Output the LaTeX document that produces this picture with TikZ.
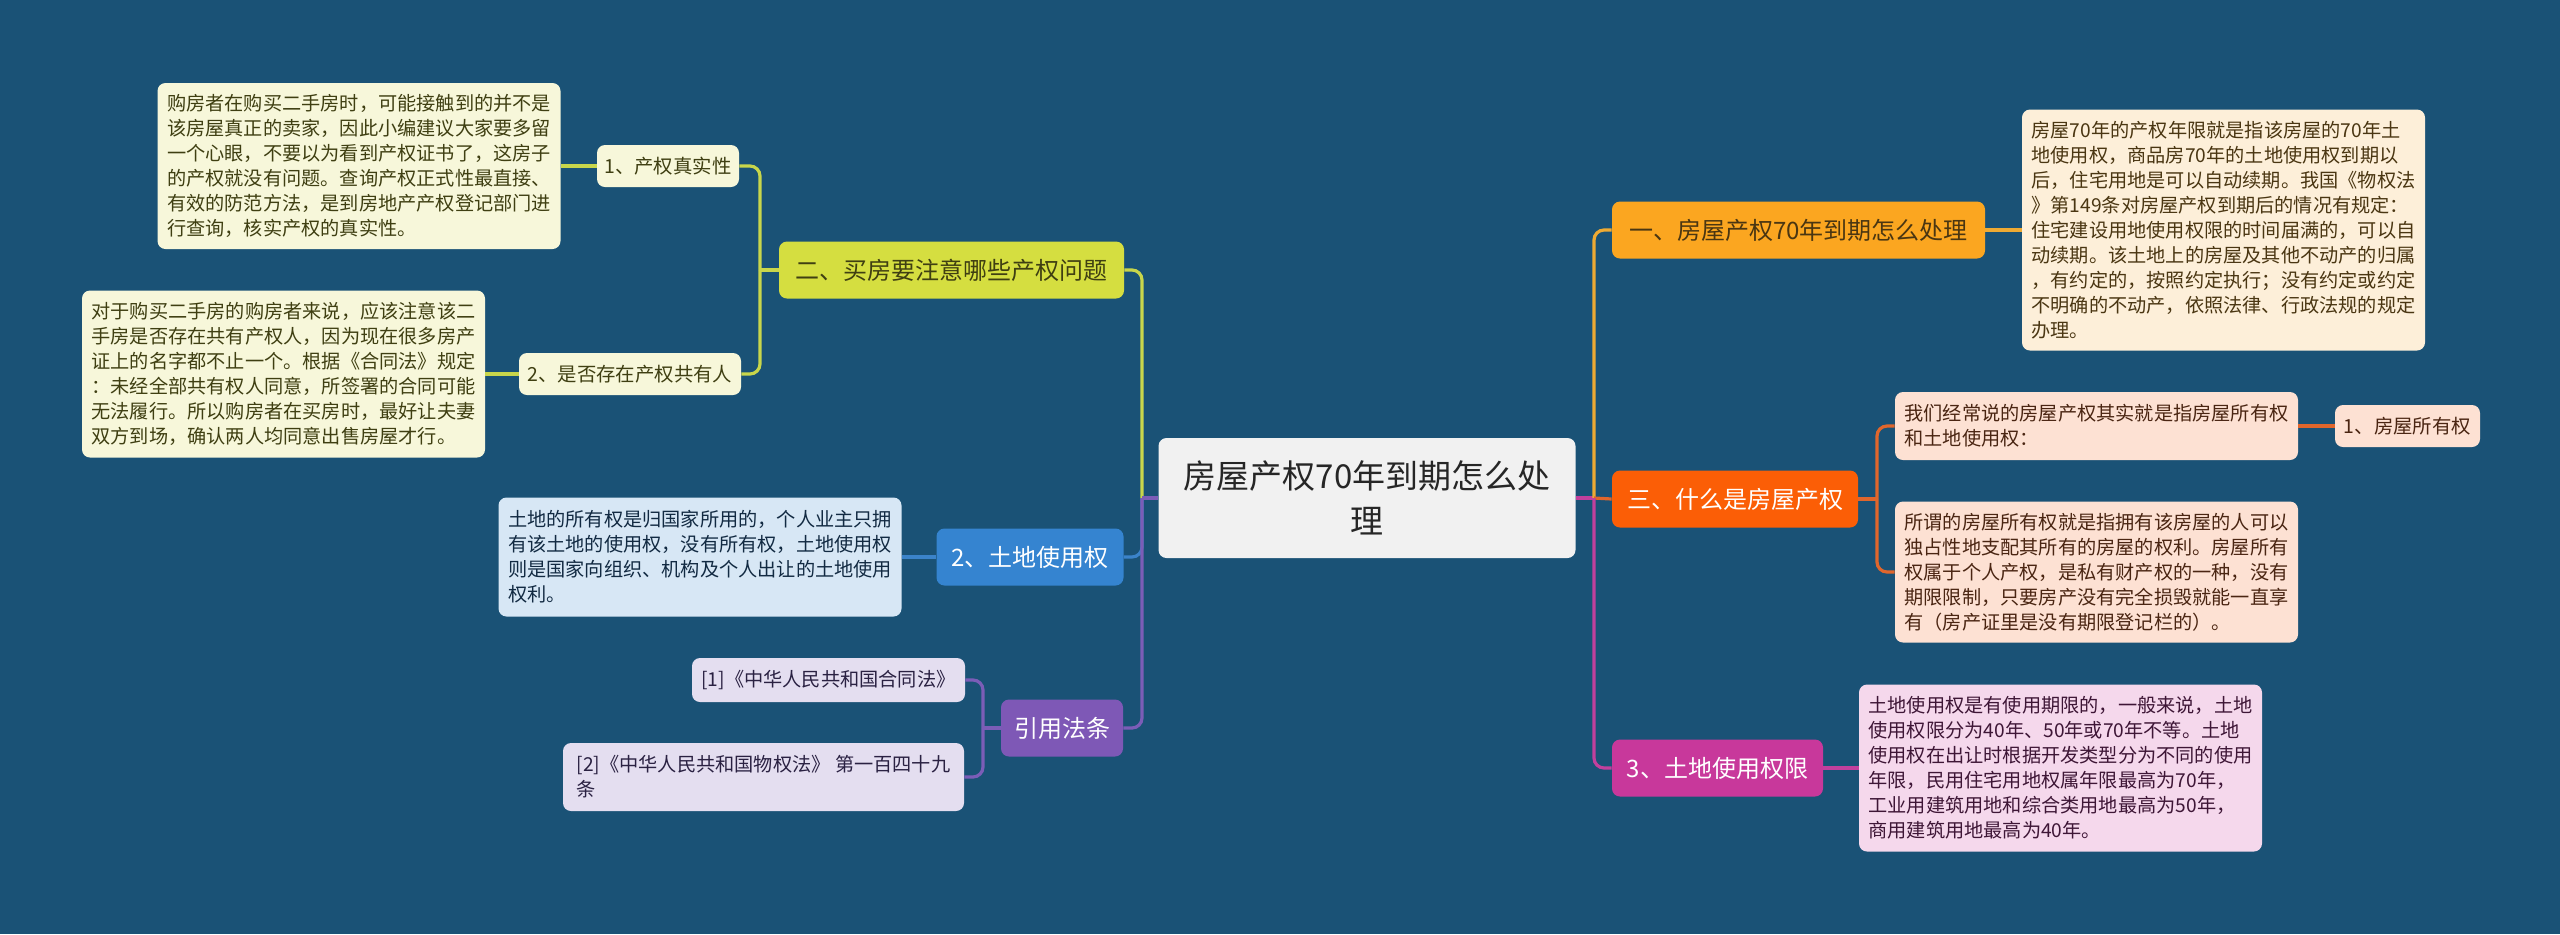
\documentclass[tikz,border=0pt]{standalone}
\usepackage{fontspec}
\setmainfont{Noto Sans CJK SC}
\usetikzlibrary{positioning}

\definecolor{bg}{HTML}{1A5276}
\definecolor{rootfill}{HTML}{F1F1F1}
\definecolor{ylw}{HTML}{D5DE40}\definecolor{ylwln}{HTML}{C8D64B}\definecolor{ylwnote}{HTML}{F7F7DA}\definecolor{ylwtxt}{HTML}{3F3F12}
\definecolor{org}{HTML}{FBA620}\definecolor{orgln}{HTML}{EEAA33}\definecolor{orgnote}{HTML}{FDEFD9}\definecolor{orgtxt}{HTML}{4A3612}
\definecolor{red}{HTML}{FB5E06}\definecolor{redln}{HTML}{E0662C}\definecolor{rednote}{HTML}{FDE1D3}\definecolor{redtxt}{HTML}{4A2512}
\definecolor{mag}{HTML}{C8389B}\definecolor{magln}{HTML}{C2409D}\definecolor{magnote}{HTML}{F5D8EC}\definecolor{magtxt}{HTML}{3E1636}
\definecolor{blu}{HTML}{3584D0}\definecolor{bluln}{HTML}{3B83C9}\definecolor{blunote}{HTML}{D7E7F5}\definecolor{blutxt}{HTML}{122A42}
\definecolor{pur}{HTML}{7E58B6}\definecolor{purln}{HTML}{7B5DB7}\definecolor{purnote}{HTML}{E4DEF0}\definecolor{purtxt}{HTML}{2A2142}

\begin{document}
\begin{tikzpicture}[x=0.5pt,y=-0.5pt,
  box/.style={rounded corners=4pt,inner sep=0pt,align=center},
  root/.style={box,fill=rootfill,text=black!85,minimum width=208.5pt,minimum height=60pt,font=\fontsize{16.5pt}{22.5pt}\selectfont},
  topic/.style={box,minimum height=28.5pt,font=\fontsize{12pt}{14pt}\selectfont},
  sub/.style={box,minimum height=21pt,font=\fontsize{9.7pt}{12pt}\selectfont},
  note/.style={box,align=left,minimum width=201.5pt,font=\fontsize{9.6pt}{12.5pt}\selectfont},
  lnk/.style={line width=1.6pt,rounded corners=5pt},
]
\fill[bg] (0,0) rectangle (2560,934);

\node[root] (root) at (1367,498) {房屋产权70年到期怎么处\\理};

% left side
\node[topic,fill=ylw,text=ylwtxt,minimum width=172.5pt] (buy) at (951.5,270) {二、买房要注意哪些产权问题};
\node[sub,fill=ylwnote,text=ylwtxt,minimum width=71pt] (buyA) at (668,166) {1、产权真实性};
\node[note,fill=ylwnote,text=ylwtxt,minimum height=83pt] (buyAn) at (359,166) {购房者在购买二手房时，可能接触到的并不是\\
该房屋真正的卖家，因此小编建议大家要多留\\
一个心眼，不要以为看到产权证书了，这房子\\
的产权就没有问题。查询产权正式性最直接、\\
有效的防范方法，是到房地产产权登记部门进\\
行查询，核实产权的真实性。};
\node[sub,fill=ylwnote,text=ylwtxt,minimum width=111pt] (buyB) at (630,374) {2、是否存在产权共有人};
\node[note,fill=ylwnote,text=ylwtxt,minimum height=83.5pt] (buyBn) at (283.5,374) {对于购买二手房的购房者来说，应该注意该二\\
手房是否存在共有产权人，因为现在很多房产\\
证上的名字都不止一个。根据《合同法》规定\\
：未经全部共有权人同意，所签署的合同可能\\
无法履行。所以购房者在买房时，最好让夫妻\\
双方到场，确认两人均同意出售房屋才行。};

\node[topic,fill=blu,text=white,minimum width=93.5pt] (land) at (1030,557) {2、土地使用权};
\node[note,fill=blunote,text=blutxt,minimum height=59.5pt] (landn) at (700,557) {土地的所有权是归国家所用的，个人业主只拥\\
有该土地的使用权，没有所有权，土地使用权\\
则是国家向组织、机构及个人出让的土地使用\\
权利。};

\node[topic,fill=pur,text=white,minimum width=61pt] (cite) at (1062,728) {引用法条};
\node[note,fill=purnote,text=purtxt,minimum width=136.5pt,minimum height=22pt] (citeA) at (828.5,680) {[1]《中华人民共和国合同法》};
\node[note,fill=purnote,text=purtxt,minimum width=200.5pt,minimum height=34pt] (citeB) at (763.5,777) {[2]《中华人民共和国物权法》 第一百四十九\\
条};

% right side
\node[topic,fill=org,text=orgtxt,minimum width=186.5pt] (due) at (1798.5,230) {一、房屋产权70年到期怎么处理};
\node[note,fill=orgnote,text=orgtxt,minimum height=120.5pt] (duen) at (2223.5,230) {房屋70年的产权年限就是指该房屋的70年土\\
地使用权，商品房70年的土地使用权到期以\\
后，住宅用地是可以自动续期。我国《物权法\\
》第149条对房屋产权到期后的情况有规定：\\
住宅建设用地使用权限的时间届满的，可以自\\
动续期。该土地上的房屋及其他不动产的归属\\
，有约定的，按照约定执行；没有约定或约定\\
不明确的不动产，依照法律、行政法规的规定\\
办理。};

\node[topic,fill=red,text=white,minimum width=123pt] (what) at (1735,499) {三、什么是房屋产权};
\node[note,fill=rednote,text=redtxt,minimum height=34pt] (whatA) at (2096.5,426) {我们经常说的房屋产权其实就是指房屋所有权\\
和土地使用权：};
\node[sub,fill=rednote,text=redtxt,minimum width=72.5pt] (own) at (2407.5,426) {1、房屋所有权};
\node[note,fill=rednote,text=redtxt,minimum height=70.5pt] (whatB) at (2096.5,572) {所谓的房屋所有权就是指拥有该房屋的人可以\\
独占性地支配其所有的房屋的权利。房屋所有\\
权属于个人产权，是私有财产权的一种，没有\\
期限限制，只要房产没有完全损毁就能一直享\\
有（房产证里是没有期限登记栏的）。};

\node[topic,fill=mag,text=white,minimum width=105.5pt] (term) at (1717.5,768) {3、土地使用权限};
\node[note,fill=magnote,text=magtxt,minimum height=83.5pt] (termn) at (2060.5,768) {土地使用权是有使用期限的，一般来说，土地\\
使用权限分为40年、50年或70年不等。土地\\
使用权在出让时根据开发类型分为不同的使用\\
年限，民用住宅用地权属年限最高为70年，\\
工业用建筑用地和综合类用地最高为50年，\\
商用建筑用地最高为40年。};

% joints
\coordinate (jL) at (1142,498);
\coordinate (jR) at (1594,498);
\coordinate (jBuy) at (760,270);
\coordinate (jCite) at (983,728);
\coordinate (jWhat) at (1877,499);

% connectors
\draw[lnk,ylwln] (buy.east) -| (jL);
\draw[lnk,bluln] (land.east) -| (jL);
\draw[lnk,purln] (cite.east) -| (jL);
\draw[lnk,purln] (jL) -- (root.west);
\draw[lnk,ylwln] (buy.west) -- (jBuy);
\draw[lnk,ylwln] (buyA.east) -| (jBuy);
\draw[lnk,ylwln] (buyB.east) -| (jBuy);
\draw[lnk,ylwln] (buyAn.east) -- (buyA.west);
\draw[lnk,ylwln] (buyBn.east) -- (buyB.west);
\draw[lnk,bluln] (landn.east) -- (land.west);
\draw[lnk,purln] (cite.west) -- (jCite);
\draw[lnk,purln] (citeA.east) -| (jCite);
\draw[lnk,purln] (citeB.east) -| (jCite);

\draw[lnk,magln] (root.east) -- (jR);
\draw[lnk,orgln] (due.west) -| (jR);
\draw[lnk,redln] (jR) -- (what.west);
\draw[lnk,magln] (term.west) -| (jR);
\draw[lnk,orgln] (due.east) -- (duen.west);
\draw[lnk,redln] (what.east) -- (jWhat);
\draw[lnk,redln] (whatA.west) -| (jWhat);
\draw[lnk,redln] (whatB.west) -| (jWhat);
\draw[lnk,redln] (whatA.east) -- (own.west);
\draw[lnk,magln] (term.east) -- (termn.west);
\end{tikzpicture}
\end{document}
